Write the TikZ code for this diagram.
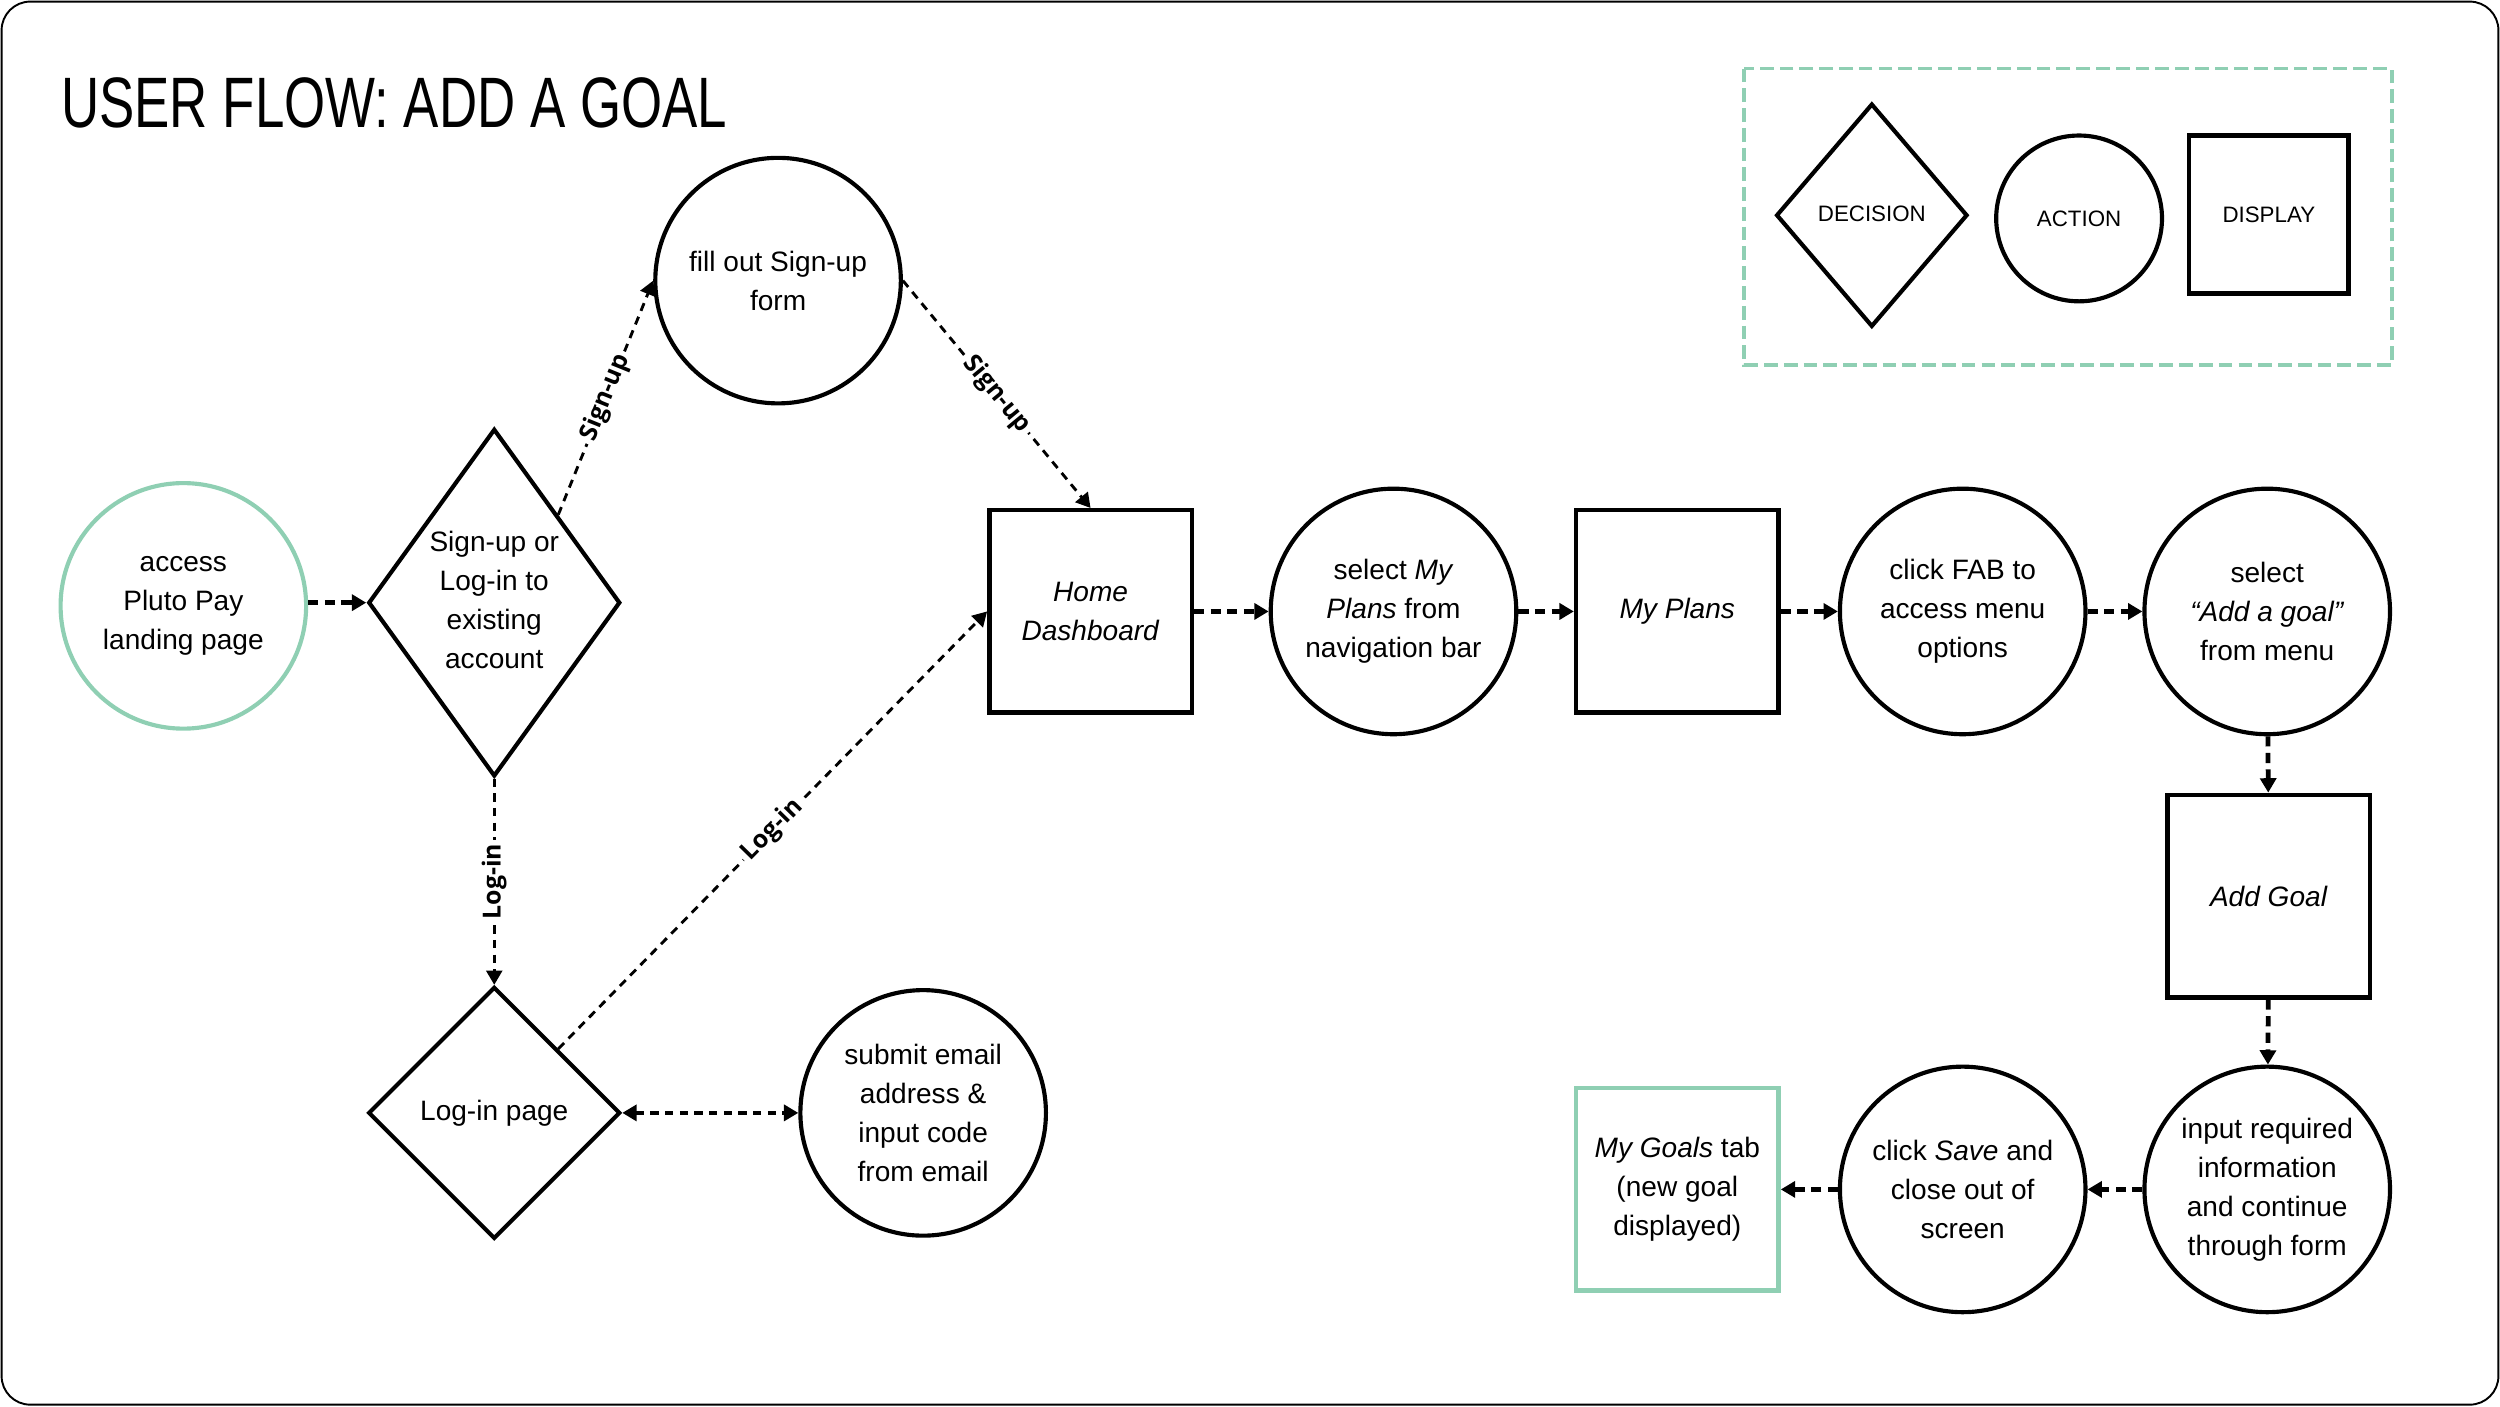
\documentclass[tikz,border=0pt]{standalone}
\usepackage{fontspec}
\setmainfont{Liberation Sans}
\newfontfamily\lblfont{Open Sans}
\newfontfamily\ttlfont[FakeStretch=0.74]{Liberation Sans}
\usetikzlibrary{shapes.geometric,arrows.meta}
\definecolor{mint}{HTML}{8FCFB3}
\newcommand{\zt}[1]{\makebox[0pt]{\smash{\raisebox{-2.2pt}{\begin{tabular}{@{}c@{}}#1\end{tabular}}}}}
\tikzset{
  x=0.5pt, y=-0.5pt,
  txt/.style={font=\fontsize{8.8}{12.25}\selectfont, align=center, inner sep=0pt},
  act/.style={txt, circle, draw, line width=1.3pt, minimum size=77pt},
  disp/.style={txt, rectangle, draw, line width=1.4pt, minimum width=63.5pt, minimum height=63.5pt},
  dec/.style={txt, diamond, draw, line width=1.3pt},
  tip/.style={-{Triangle[length=4.5pt,width=5pt]}},
  flowh/.style={tip, line width=1.5pt, dash pattern=on 3.2pt off 2pt},
  flowd/.style={tip, line width=0.9pt, dash pattern=on 2.6pt off 2pt},
  elbl/.style={font=\lblfont\bfseries\fontsize{7.8}{9}\selectfont, fill=white, inner sep=1.2pt},
  lgtxt/.style={font=\fontsize{7}{8}\selectfont}
}
\begin{document}
\begin{tikzpicture}
\useasboundingbox (0,0) rectangle (1568,882);
\draw[line width=0.6pt, rounded corners=9pt] (1,1) rectangle (1567,881);

\node[anchor=base west, inner sep=0pt, font=\ttlfont\fontsize{22.4}{26}\selectfont] (title) at (38,80) {USER FLOW: ADD A GOAL};

% legend
\draw[mint, line width=1.2pt, dash pattern=on 4.3pt off 1.9pt] (1094,43) rectangle (1500,229);
\node[dec, minimum width=60pt, minimum height=70pt, lgtxt] (lgdec) at (1174,135) {\zt{DECISION}};
\node[act, minimum size=52pt, lgtxt] (lgact) at (1304,137) {ACTION};
\node[disp, minimum width=50pt, minimum height=49.5pt, lgtxt] (lgdisp) at (1423,134.5) {DISPLAY};

% nodes
\node[act, draw=mint] (land) at (115,380) {access\\Pluto Pay\\landing page};
\node[dec, minimum width=79pt, minimum height=109pt] (d1) at (310,378) {\zt{Sign-up or\\Log-in to\\existing\\account}};
\node[act] (fill) at (488,176) {fill out Sign-up\\form};
\node[disp] (home) at (684,383.5) {\textit{Home}\\\textit{Dashboard}};
\node[act] (selplans) at (874,383.5) {select \textit{My}\\\textit{Plans} from\\navigation bar};
\node[disp] (plans) at (1052,383.5) {\textit{My Plans}};
\node[act] (fab) at (1231,383.5) {click FAB to\\access menu\\options};
\node[act] (seladd) at (1422,383.5) {select\\\textit{“Add a goal”}\\from menu};
\node[disp] (addgoal) at (1423,562) {\textit{Add Goal}};
\node[act] (input) at (1422,746) {input required\\information\\and continue\\through form};
\node[act] (save) at (1231,746) {click \textit{Save} and\\close out of\\screen};
\node[disp, draw=mint] (goals) at (1052,746) {\textit{My Goals} tab\\(new goal\\displayed)};
\node[dec, minimum width=79pt, minimum height=79pt] (login) at (310,698) {\zt{Log-in page}};
\node[act] (submit) at (579,698) {submit email\\address \&\\input code\\from email};

% connectors
\draw[flowh] (land.east |- d1) -- (d1);
\draw[flowd] (d1.north east) -- node[elbl, sloped] {Sign-up} (fill.west);
\draw[flowd] (fill.east) -- node[elbl, sloped] {Sign-up} (home.north);
\draw[flowd] (d1.south) -- node[elbl, rotate=90] {Log-in} (login.north);
\draw[flowd] (login.north east) -- node[elbl, sloped] {Log-in} (home.west);
\draw[flowd, line width=1.3pt, {Triangle[length=4.5pt,width=5pt]}-{Triangle[length=4.5pt,width=5pt]}] (login.east) -- (submit.west);
\draw[flowh] (home) -- (selplans);
\draw[flowh] (selplans) -- (plans);
\draw[flowh] (plans) -- (fab);
\draw[flowh] (fab) -- (seladd);
\draw[flowh] (seladd) -- (addgoal);
\draw[flowh] (addgoal) -- (input);
\draw[flowh] (input) -- (save);
\draw[flowh] (save) -- (goals);
\end{tikzpicture}
\end{document}
